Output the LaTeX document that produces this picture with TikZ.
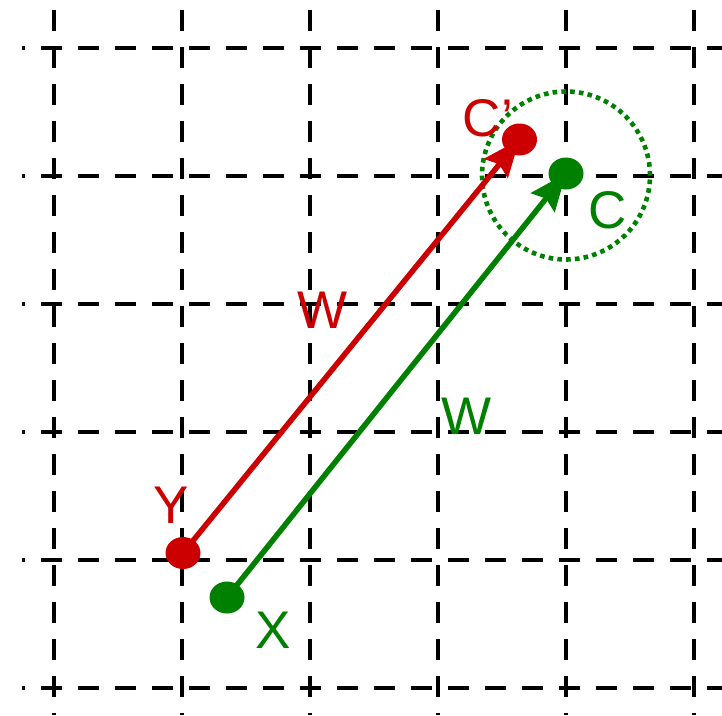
\documentclass[tikz,border=0pt]{standalone}
\usepackage{fontspec}
\setmainfont{Liberation Sans}
\usetikzlibrary{arrows.meta,shapes.geometric}
\definecolor{myred}{HTML}{CC0000}
\definecolor{mygreen}{HTML}{008000}
\begin{document}
\begin{tikzpicture}[x=1pt,y=-1pt,
  gridline/.style={line width=4.6pt, dash pattern=on 21pt off 16pt},
  dotnode/.style={ellipse, minimum width=35pt, minimum height=32pt, inner sep=0pt, fill=#1},
  vec/.style={line width=5.5pt, draw=#1, -{Stealth[length=37pt,width=30pt,inset=5pt,fill=#1]}},
  lbl/.style={text=#1, font=\fontsize{53}{60}\selectfont, inner sep=0pt, anchor=base}]
\useasboundingbox (0,0) rectangle (722,715);
% grid
\foreach \x in {54,182,310,438,566,694}
  \draw[gridline, dash phase=27pt] (\x,0) -- (\x,715);
\foreach \y in {48,176,304,432,560,688}
  \draw[gridline, dash phase=18pt] (22,\y) -- (722,\y);
% dotted ring
\node[circle, draw=mygreen, line width=4.6pt, dash pattern=on 4.6pt off 4.2pt, minimum size=168pt, inner sep=0pt] (ring) at (566,175.5) {};
% point coordinates
\coordinate (Ypos) at (183,553);
\coordinate (Xpos) at (227,597.5);
\coordinate (Cppos) at (519.5,139.5);
\coordinate (Cpos) at (566,173.5);
% vectors
\draw[vec=myred] (Ypos) -- (Cppos);
\draw[vec=mygreen] (Xpos) -- (Cpos);
% dots
\node[dotnode=myred] (Y) at (Ypos) {};
\node[dotnode=mygreen] (X) at (Xpos) {};
\node[dotnode=myred] (Cp) at (Cppos) {};
\node[dotnode=mygreen] (C) at (Cpos) {};
% labels
\node[lbl=myred] (lCp) at (488,136) {C’};
\node[lbl=mygreen] (lC) at (608,228) {C};
\node[lbl=myred] (lY) at (171,523) {Y};
\node[lbl=mygreen] (lX) at (273.5,648) {X};
\node[lbl=myred] (lW1) at (323,328) {W};
\node[lbl=mygreen] (lW2) at (467,434) {W};
\end{tikzpicture}
\end{document}
